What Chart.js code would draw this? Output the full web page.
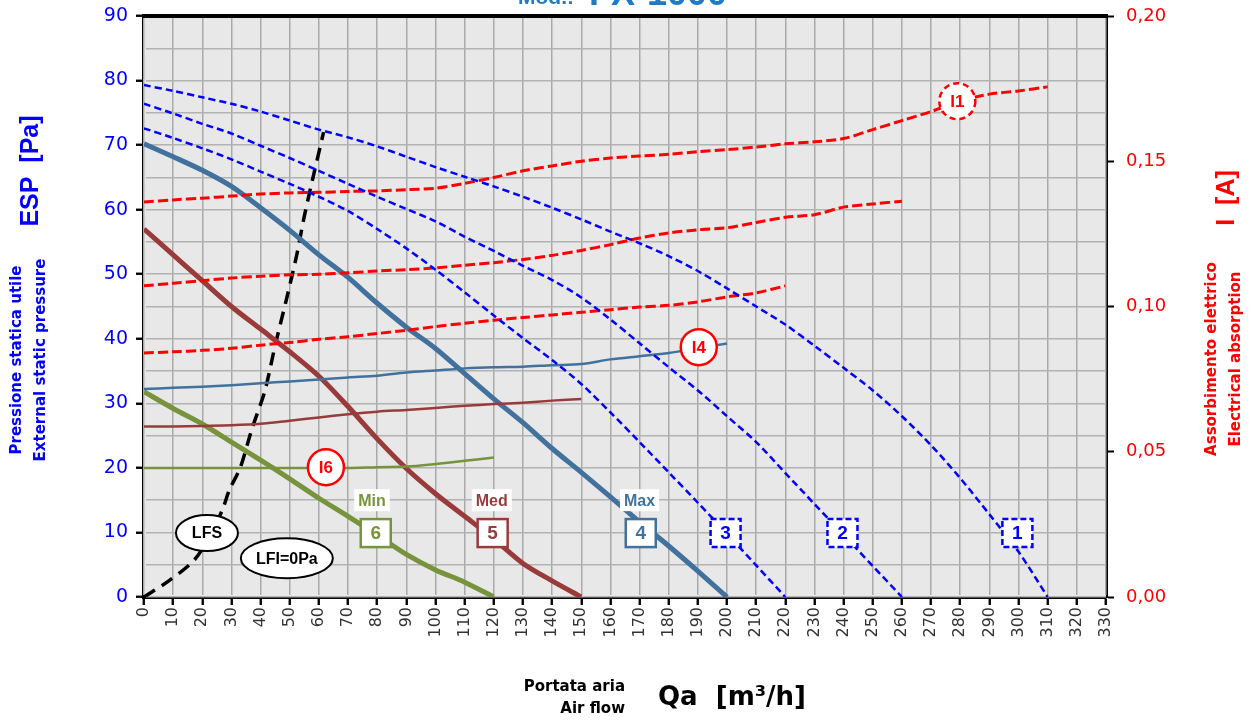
<!DOCTYPE html>
<html>
<head>
<meta charset="utf-8">
<script src="https://cdn.jsdelivr.net/npm/chart.js@4.4.1/dist/chart.umd.min.js"></script>
<style>
  html, body { margin: 0; padding: 0; background: #fff; }
  #wrap { width: 1251px; height: 720px; position: relative; }
</style>
</head>
<body>
<div id="wrap"><canvas id="fanChart" width="1251" height="720"></canvas></div>
<script>
// air flow [m3/h] for each curve
const flowTo310 = [0,10,20,30,40,50,60,70,80,90,100,110,120,130,140,150,160,170,180,190,200,210,220,230,240,250,260,270,280,290,300,310];
const flowTo260 = [0,10,20,30,40,50,60,70,80,90,100,110,120,130,140,150,160,170,180,190,200,210,220,230,240,250,260];
const flowTo220 = [0,10,20,30,40,50,60,70,80,90,100,110,120,130,140,150,160,170,180,190,200,210,220];
const flowTo200 = [0,10,20,30,40,50,60,70,80,90,100,110,120,130,140,150,160,170,180,190,200];
const flowTo150 = [0,10,20,30,40,50,60,70,80,90,100,110,120,130,140,150];
const flowTo120 = [0,10,20,30,40,50,60,70,80,90,100,110,120];

// external static pressure [Pa], speeds 1..6
const esp1 = [79.3,78.4,77.4,76.4,75.2,73.8,72.4,71.2,69.8,68.2,66.6,65.1,63.6,62.0,60.3,58.5,56.6,54.8,52.8,50.5,47.8,45.0,42.2,38.9,35.5,32.0,28.0,23.5,18.4,12.8,7.0,0];
const esp2 = [76.4,74.9,73.3,71.8,69.9,68.0,66.0,64.0,62.0,60.1,58.2,55.8,53.6,51.3,49.1,46.4,43.0,39.3,35.6,32.0,28.0,24.0,19.2,14.4,9.6,4.8,0];
const esp3 = [72.6,71.1,69.5,67.8,65.9,64.0,62.0,59.8,57.0,54.0,50.7,47.2,43.6,40.1,36.7,33.0,28.6,24.0,19.3,14.6,9.8,4.9,0];
const esp4 = [70.2,68.2,66.1,63.6,60.3,56.8,53.0,49.5,45.5,41.8,38.5,34.6,30.7,27.0,23.0,19.3,15.5,11.6,7.9,4.0,0];
const esp5 = [57.0,53.0,49.0,45.0,41.5,38.0,34.2,29.5,24.5,19.9,16.0,12.5,9.0,5.2,2.5,0];
const esp6 = [31.8,29.2,26.8,24.0,21.2,18.3,15.3,12.5,9.6,6.6,4.2,2.3,0];

// electrical absorption [A]
const amp1 = [0.1360,0.1367,0.1373,0.1380,0.1387,0.1391,0.1393,0.1396,0.1398,0.1402,0.1407,0.1424,0.1444,0.1467,0.1484,0.1500,0.1511,0.1518,0.1524,0.1533,0.1540,0.1549,0.1560,0.1567,0.1578,0.1609,0.1640,0.1671,0.1707,0.1731,0.1742,0.1756];
const amp2 = [0.1071,0.1080,0.1089,0.1098,0.1104,0.1109,0.1111,0.1116,0.1122,0.1127,0.1133,0.1142,0.1151,0.1162,0.1176,0.1193,0.1213,0.1236,0.1253,0.1264,0.1271,0.1289,0.1307,0.1316,0.1342,0.1353,0.1362];
const amp3 = [0.0840,0.0844,0.0849,0.0856,0.0867,0.0876,0.0887,0.0896,0.0907,0.0918,0.0931,0.0942,0.0953,0.0962,0.0971,0.0980,0.0989,0.0998,0.1004,0.1016,0.1033,0.1047,0.1071];
const amp4 = [0.0716,0.0720,0.0724,0.0729,0.0736,0.0742,0.0749,0.0756,0.0762,0.0773,0.0780,0.0787,0.0791,0.0793,0.0798,0.0802,0.0818,0.0829,0.0840,0.0856,0.0873];
const amp5 = [0.0587,0.0587,0.0589,0.0591,0.0596,0.0607,0.0618,0.0629,0.0638,0.0644,0.0651,0.0658,0.0664,0.0669,0.0676,0.0682];
const amp6 = [0.0444,0.0444,0.0444,0.0444,0.0444,0.0444,0.0444,0.0444,0.0447,0.0449,0.0458,0.0469,0.0480];

// LFS system curve
const lfsFlow = [0,8.5,17,22,26.8,29.3,33,37,41.5,45,48.8,52.4,55,58.5,61.6];
const lfsEsp = [0,2.5,5.6,9,13.4,16.6,20,26,32,39,46,53,59,66,72];

// axis ticks
const flowTicks = [0,330,10];
const espTicks = [0,90,5];
const ampTicks = [0,0.2,0.05];

const BLUE = '#0000ff';
const RED = '#ff0000';
const MAX_C = '#41719c';
const MED_C = '#9a3b3b';
const MIN_C = '#77933c';
const FONT = "'Liberation Sans', Arial, sans-serif";
const WIDE = "'DejaVu Sans', Verdana, sans-serif";

function pts(xs, ys) {
  return xs.map((x, i) => ({ x: x, y: ys[i] }));
}

function espLine(data, color, width, dash) {
  return {
    data: data, yAxisID: 'y', borderColor: color, borderWidth: width,
    borderDash: dash || [], pointRadius: 0, tension: 0.3, fill: false
  };
}

function ampLine(data, color, width, dash) {
  return {
    data: data, yAxisID: 'y1', borderColor: color, borderWidth: width,
    borderDash: dash || [], pointRadius: 0, tension: 0.3, fill: false
  };
}

function rotText(ctx, text, x, y, font, color) {
  ctx.save();
  ctx.translate(x, y);
  ctx.rotate(-Math.PI / 2);
  ctx.font = font;
  ctx.fillStyle = color;
  ctx.textAlign = 'center';
  ctx.textBaseline = 'middle';
  ctx.fillText(text, 0, 0);
  ctx.restore();
}

function boxTag(ctx, x, y, text, color, dashed) {
  ctx.save();
  ctx.fillStyle = '#fff';
  ctx.fillRect(x - 15, y - 14, 30, 28);
  ctx.strokeStyle = color;
  ctx.lineWidth = 2.5;
  ctx.setLineDash(dashed ? [6, 3] : []);
  ctx.strokeRect(x - 15, y - 14, 30, 28);
  ctx.setLineDash([]);
  ctx.fillStyle = color;
  ctx.font = 'bold 19px ' + FONT;
  ctx.textAlign = 'center';
  ctx.textBaseline = 'middle';
  ctx.fillText(text, x, y + 1);
  ctx.restore();
}

function speedTag(ctx, x, y, text, color) {
  ctx.save();
  ctx.font = 'bold 16px ' + FONT;
  const w = ctx.measureText(text).width + 8;
  ctx.fillStyle = '#fff';
  ctx.fillRect(x - w / 2, y - 11, w, 22);
  ctx.fillStyle = color;
  ctx.textAlign = 'center';
  ctx.textBaseline = 'middle';
  ctx.fillText(text, x, y + 1);
  ctx.restore();
}

function circleTag(ctx, x, y, text, dashed) {
  ctx.save();
  ctx.beginPath();
  ctx.arc(x, y, 18, 0, Math.PI * 2);
  ctx.fillStyle = '#fff';
  ctx.fill();
  ctx.strokeStyle = RED;
  ctx.lineWidth = 2.5;
  ctx.setLineDash(dashed ? [6, 4] : []);
  ctx.stroke();
  ctx.setLineDash([]);
  ctx.fillStyle = RED;
  ctx.font = 'bold 17px ' + FONT;
  ctx.textAlign = 'center';
  ctx.textBaseline = 'middle';
  ctx.fillText(text, x, y + 1);
  ctx.restore();
}

function ovalTag(ctx, x, y, rx, ry, text) {
  ctx.save();
  ctx.beginPath();
  ctx.ellipse(x, y, rx, ry, 0, 0, Math.PI * 2);
  ctx.fillStyle = '#fff';
  ctx.fill();
  ctx.strokeStyle = '#000';
  ctx.lineWidth = 2;
  ctx.stroke();
  ctx.fillStyle = '#000';
  ctx.font = 'bold 16px ' + FONT;
  ctx.textAlign = 'center';
  ctx.textBaseline = 'middle';
  ctx.fillText(text, x, y + 1);
  ctx.restore();
}

const decor = {
  id: 'decor',
  beforeDatasetsDraw(chart) {
    const { ctx, chartArea: a } = chart;
    ctx.save();
    ctx.fillStyle = '#e8e8e8';
    ctx.fillRect(a.left, a.top, a.right - a.left, a.bottom - a.top);
    ctx.restore();
    // grid again, over the grey background
    chart.scales.x.drawGrid(a);
    chart.scales.y.drawGrid(a);
  },
  afterDatasetsDraw(chart) {
    const ctx = chart.ctx;
    const sx = chart.scales.x, sy = chart.scales.y;
    const X = v => sx.getPixelForValue(v);
    const Y = v => sy.getPixelForValue(v);

    speedTag(ctx, X(78.2), Y(15), 'Min', MIN_C);
    speedTag(ctx, X(119.3), Y(15), 'Med', MED_C);
    speedTag(ctx, X(170), Y(15), 'Max', MAX_C);
    boxTag(ctx, X(79.5), Y(9.9), '6', MIN_C, false);
    boxTag(ctx, X(119.6), Y(9.9), '5', MED_C, false);
    boxTag(ctx, X(170.4), Y(9.9), '4', MAX_C, false);
    boxTag(ctx, X(199.5), Y(9.9), '3', BLUE, true);
    boxTag(ctx, X(239.6), Y(9.9), '2', BLUE, true);
    boxTag(ctx, X(299.6), Y(9.9), '1', BLUE, true);

    circleTag(ctx, X(62.4), Y(20.1), 'I6', false);
    circleTag(ctx, X(190.3), Y(38.7), 'I4', false);
    circleTag(ctx, X(279), Y(76.8), 'I1', true);

    ovalTag(ctx, X(21.6), Y(9.9), 31, 18, 'LFS');
    ovalTag(ctx, X(49), Y(6), 46, 20, 'LFI=0Pa');
  },
  afterDraw(chart) {
    const { ctx, chartArea: a } = chart;
    ctx.save();
    // top frame line
    ctx.fillStyle = '#000';
    ctx.fillRect(a.left - 2, a.top - 2, a.right - a.left + 4, 4);

    // title, cut by the top edge
    ctx.fillStyle = '#1f7bc6';
    ctx.textBaseline = 'alphabetic';
    ctx.textAlign = 'left';
    ctx.font = 'bold 21px ' + FONT;
    ctx.fillText('Mod.:', 518, 4);
    ctx.font = 'bold 36px ' + FONT;
    ctx.fillText('FX-1000', 589, 5);

    // left axis titles
    rotText(ctx, 'ESP  [Pa]', 31, 171, 'bold 25px ' + FONT, BLUE);
    rotText(ctx, 'Pressione statica utile', 17, 360, 'bold 15px ' + WIDE, BLUE);
    rotText(ctx, 'External static pressure', 41, 360, 'bold 15px ' + WIDE, BLUE);

    // right axis titles
    rotText(ctx, 'I  [A]', 1227, 198, 'bold 25px ' + FONT, RED);
    rotText(ctx, 'Assorbimento elettrico', 1212, 359, 'bold 15px ' + WIDE, RED);
    rotText(ctx, 'Electrical absorption', 1236, 359, 'bold 15px ' + WIDE, RED);

    // bottom axis titles
    ctx.fillStyle = '#000';
    ctx.textAlign = 'right';
    ctx.textBaseline = 'middle';
    ctx.font = 'bold 15px ' + WIDE;
    ctx.fillText('Portata aria', 625, 687);
    ctx.fillText('Air flow', 625, 709);
    ctx.textAlign = 'left';
    ctx.font = 'bold 26px ' + WIDE;
    ctx.fillText('Qa  [m\u00B3/h]', 658, 698);
    ctx.restore();
  }
};

function noVertPad(s) {
  s.paddingTop = 0;
  s.paddingBottom = 0;
}

new Chart(document.getElementById('fanChart'), {
  type: 'line',
  data: {
    datasets: [
      espLine(pts(flowTo310, esp1), BLUE, 2.5, [7, 4]),
      espLine(pts(flowTo260, esp2), BLUE, 2.5, [7, 4]),
      espLine(pts(flowTo220, esp3), BLUE, 2.5, [7, 4]),
      ampLine(pts(flowTo310, amp1), RED, 3, [10, 4]),
      ampLine(pts(flowTo260, amp2), RED, 3, [10, 4]),
      ampLine(pts(flowTo220, amp3), RED, 3, [10, 4]),
      ampLine(pts(flowTo200, amp4), MAX_C, 2.5),
      ampLine(pts(flowTo150, amp5), MED_C, 2.5),
      ampLine(pts(flowTo120, amp6), MIN_C, 2.5),
      espLine(pts(flowTo200, esp4), MAX_C, 5),
      espLine(pts(flowTo150, esp5), MED_C, 5),
      espLine(pts(flowTo120, esp6), MIN_C, 5),
      espLine(pts(lfsFlow, lfsEsp), '#000', 3.5, [13, 8])
    ]
  },
  options: {
    responsive: false,
    animation: false,
    events: [],
    layout: { padding: { top: 16, left: 0, right: 0, bottom: 0 } },
    plugins: { legend: { display: false }, tooltip: { enabled: false } },
    scales: {
      x: {
        type: 'linear',
        min: flowTicks[0], max: flowTicks[1],
        afterFit(s) { s.height = 720 - 597; },
        grid: { color: '#a9a9a9', lineWidth: 1.5, tickColor: '#000', tickWidth: 2, tickLength: 8 },
        border: { color: '#000', width: 4 },
        ticks: {
          stepSize: flowTicks[2], autoSkip: false, minRotation: 90, maxRotation: 90,
          color: '#333', font: { family: WIDE, size: 16 }, padding: 2
        }
      },
      y: {
        type: 'linear', position: 'left',
        min: espTicks[0], max: espTicks[1],
        afterFit(s) { s.width = 144; noVertPad(s); },
        grid: {
          color: '#b2b2b2', lineWidth: 1.5, tickLength: 8, tickWidth: 2,
          tickColor: c => (c.tick && c.tick.value % 10 === 0) ? '#000' : 'rgba(0,0,0,0)'
        },
        border: { color: '#000', width: 4 },
        ticks: {
          stepSize: espTicks[2], color: BLUE, padding: 8,
          font: { family: WIDE, size: 19 },
          callback: v => (v % 10 === 0 ? String(v) : '')
        }
      },
      y1: {
        type: 'linear', position: 'right',
        min: ampTicks[0], max: ampTicks[1],
        afterFit(s) { s.width = 1251 - 1106; noVertPad(s); },
        grid: { drawOnChartArea: false, tickColor: '#000', tickWidth: 2, tickLength: 8 },
        border: { color: '#000', width: 4 },
        ticks: {
          stepSize: ampTicks[2], color: RED, padding: 12,
          font: { family: WIDE, size: 18 },
          callback: v => v.toFixed(2).replace('.', ',')
        }
      }
    }
  },
  plugins: [decor]
});
</script>
</body>
</html>
